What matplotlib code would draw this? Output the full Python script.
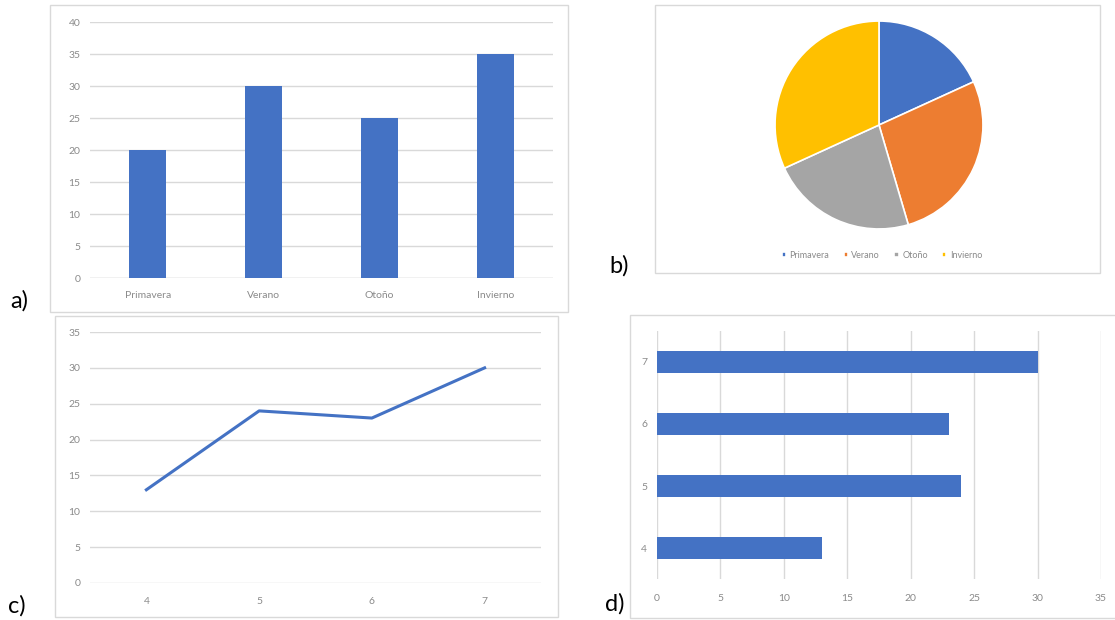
import matplotlib
matplotlib.use("Agg")
import matplotlib.pyplot as plt
from matplotlib.patches import Rectangle

plt.rcParams['font.family'] = ['Lato', 'DejaVu Sans']

# ---- data ----
seasons = ["Primavera", "Verano", "Otoño", "Invierno"]
season_values = [20, 30, 25, 35]
pie_colors = ["#4472C4", "#ED7D31", "#A5A5A5", "#FFC000"]

line_x = ["4", "5", "6", "7"]
line_values = [13, 24, 23, 30]

hbar_labels = ["4", "5", "6", "7"]
hbar_values = [13, 24, 23, 30]

BLUE = "#4472C4"
GRID = "#D9D9D9"
TICK = "#8a8a8a"
TS = 7.5
W, H = 1115, 620

fig = plt.figure(figsize=(W / 100, H / 100), dpi=100)
fig.patch.set_facecolor("white")


def rect(x0, y0, x1, y1):
    return [x0 / W, 1 - y1 / H, (x1 - x0) / W, (y1 - y0) / H]


def box(x0, y0, x1, y1):
    r = rect(x0, y0, x1, y1)
    fig.patches.append(Rectangle((r[0], r[1]), r[2], r[3], transform=fig.transFigure,
                                 facecolor="white", edgecolor=GRID, linewidth=1.0, zorder=-5))


def style(ax):
    for s in ax.spines.values():
        s.set_visible(False)
    ax.tick_params(length=0, labelsize=TS, labelcolor=TICK, pad=7)
    ax.set_facecolor("none")


# boxes
box(50, 5, 568, 312)
box(655, 5, 1100, 273)
box(55, 316, 558, 617)
box(630, 315, 1125, 618)

# ---- a) column chart ----
axa = fig.add_axes(rect(90, 22, 553, 278))
xa = range(len(seasons))
axa.bar(xa, season_values, width=0.32, color=BLUE, zorder=3)
axa.set_xlim(-0.5, 3.5)
axa.set_ylim(0, 40)
axa.set_yticks(range(0, 41, 5))
axa.set_xticks(list(xa))
axa.set_xticklabels(seasons)
axa.yaxis.grid(True, color=GRID, linewidth=1.0, zorder=0)
style(axa)
axa.tick_params(axis="x", pad=9)
axa.axhline(0, color=GRID, linewidth=1.0, zorder=1)

# ---- b) pie ----
axb = fig.add_axes(rect(774, 20, 984, 230))
wedges, _ = axb.pie(season_values, colors=pie_colors, startangle=90, counterclock=False,
                    wedgeprops=dict(edgecolor="white", linewidth=1.2))
axb.set_aspect("equal")
axb.set_xlim(-1.01, 1.01)
axb.set_ylim(-1.01, 1.01)
leg = fig.legend(wedges, seasons, loc="center", bbox_to_anchor=(882 / W, 1 - 255 / H),
                 ncol=4, frameon=False, fontsize=6.5, handlelength=0.45, handleheight=0.45,
                 handletextpad=0.4, columnspacing=1.6)
for t in leg.get_texts():
    t.set_color(TICK)

# ---- c) line chart ----
axc = fig.add_axes(rect(90, 332, 541, 583))
xc = range(len(line_x))
axc.plot(xc, line_values, color=BLUE, linewidth=2.2, zorder=3, solid_joinstyle="round")
axc.set_xlim(-0.5, 3.5)
axc.set_ylim(0, 35)
axc.set_yticks(range(0, 36, 5))
axc.set_xticks(list(xc))
axc.set_xticklabels(line_x)
axc.yaxis.grid(True, color=GRID, linewidth=1.0, zorder=0)
style(axc)
axc.tick_params(axis="x", pad=10)

# ---- d) horizontal bar chart ----
axd = fig.add_axes(rect(657, 331, 1101, 579))
yd = range(len(hbar_labels))
axd.barh(yd, hbar_values, height=0.34, color=BLUE, zorder=3)
axd.set_ylim(-0.5, 3.5)
axd.set_xlim(0, 35)
axd.set_xticks(range(0, 36, 5))
axd.set_yticks(list(yd))
axd.set_yticklabels(hbar_labels)
axd.xaxis.grid(True, color=GRID, linewidth=1.0, zorder=0)
style(axd)
axd.tick_params(axis="x", pad=11)

# panel labels
for txt, x, y in [("a)", 10, 301), ("b)", 609, 266), ("c)", 8, 606), ("d)", 605, 604)]:
    fig.text(x / W, 1 - y / H, txt, fontsize=17, color="black", va="center", ha="left")

fig.savefig("out.png", dpi=100, facecolor="white")
